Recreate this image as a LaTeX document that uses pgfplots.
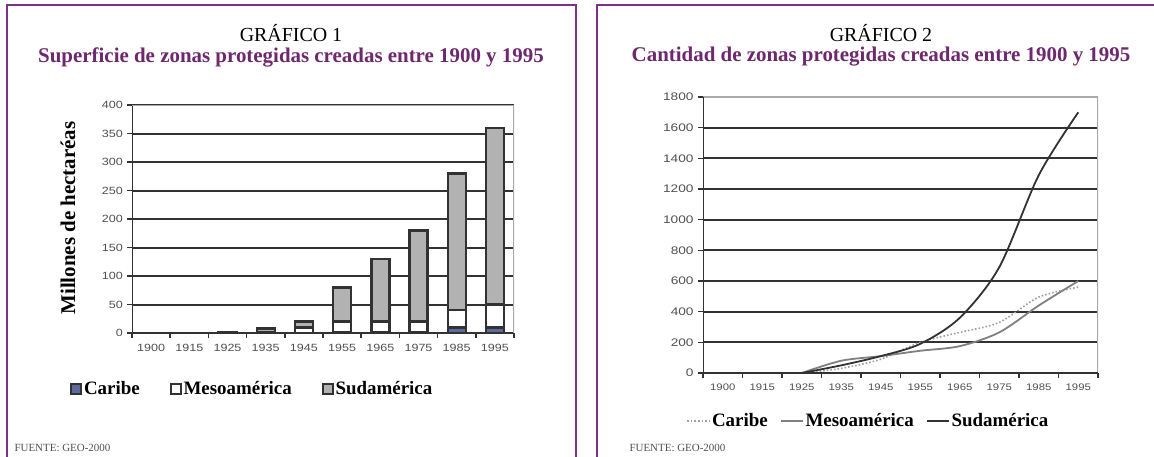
\documentclass[border=0pt]{standalone}
\usepackage{fontspec}
\setmainfont{Liberation Serif}
\newfontfamily\sansf{Liberation Sans}
\usepackage{pgfplots}
\pgfplotsset{compat=1.18}
\definecolor{ttl}{RGB}{110,40,110}
\definecolor{brd}{RGB}{125,50,135}
\definecolor{grd}{RGB}{50,50,50}
\definecolor{frm}{RGB}{170,170,170}
\definecolor{tlab}{RGB}{80,80,80}
\definecolor{sud}{RGB}{178,178,178}
\definecolor{car}{RGB}{95,105,160}
\begin{document}
\begin{tikzpicture}
\clip (0,0) rectangle (1154bp,457bp);
\fill[white] (0,0) rectangle (1154bp,457bp);
% panel borders
\draw[brd, line width=2.2bp] (7bp,-10bp) -- (7bp,452bp) -- (576bp,452bp) -- (576bp,-10bp);
\draw[brd, line width=2.2bp] (597bp,-10bp) -- (597bp,452bp) -- (1170bp,452bp);
% titles
\node[font=\fontsize{20}{24}\selectfont] at (291bp,424bp) {GRÁFICO 1};
\node[font=\bfseries\fontsize{21}{25}\selectfont, text=ttl] at (291bp,400bp) {Superficie de zonas protegidas creadas entre 1900 y 1995};
\node[font=\fontsize{20}{24}\selectfont] at (881bp,424bp) {GRÁFICO 2};
\node[font=\bfseries\fontsize{21}{25}\selectfont, text=ttl] at (881bp,400bp) {Cantidad de zonas protegidas creadas entre 1900 y 1995};
\node[font=\fontsize{11}{13}\selectfont, text=tlab, anchor=west] at (11bp,9bp) {FUENTE: GEO-2000};
\node[font=\fontsize{11}{13}\selectfont, text=tlab, anchor=west] at (626bp,9bp) {FUENTE: GEO-2000};
\node[rotate=90, font=\bfseries\fontsize{21}{25}\selectfont] at (68bp,239bp) {Millones de hectaréas};

% ---------- Chart 1 ----------
\begin{axis}[
  at={(132bp,124bp)}, anchor=south west, scale only axis,
  width=382bp, height=228bp,
  ybar stacked, bar width=18bp,
  xmin=-0.5, xmax=9.5, ymin=0, ymax=400,
  xtick={0,...,9},
  xticklabels={1900,1915,1925,1935,1945,1955,1965,1975,1985,1995},
  minor xtick={-0.5,0.5,...,9.5},
  ytick={0,50,...,400},
  xtick pos=bottom, ytick pos=left,
  major x tick style={draw=none},
  tick align=outside,
  major tick length=5bp, minor tick length=5bp,
  tick style={color=grd, line width=1.5bp},
  ymajorgrids, grid style={line width=2bp, color=grd},
  axis line style={draw=none},
  tick label style={font=\sansf\fontsize{10.5}{12}\selectfont, text=tlab, xscale=1.2},
  /pgf/number format/assume math mode=true,
  xticklabel style={yshift=-3bp},
  legend style={at={(-0.17,-0.245)}, anchor=west, draw=none, fill=none,
    font=\bfseries\fontsize{19}{22}\selectfont, legend columns=-1,
    /tikz/every even column/.append style={column sep=28bp}},
  legend image code/.code={\draw[#1, line width=1.8bp] (0bp,-5bp) rectangle (10bp,5bp);},
]
\addplot[fill=car, draw=grd, line width=2.4bp] coordinates {(0,0) (1,0) (2,0) (3,0) (4,0) (5,1) (6,1) (7,1) (8,10) (9,10)};
\addlegendentry{Caribe}
\addplot[fill=white, draw=grd, line width=2.4bp] coordinates {(0,0) (1,0) (2,0.5) (3,2) (4,10) (5,19) (6,19) (7,19) (8,30) (9,40)};
\addlegendentry{Mesoamérica}
\addplot[fill=sud, draw=grd, line width=2.4bp] coordinates {(0,0) (1,0) (2,1) (3,6) (4,10) (5,60) (6,110) (7,160) (8,240) (9,310)};
\addlegendentry{Sudamérica}
\draw[frm, line width=2bp] (rel axis cs:0,1) -- (rel axis cs:1,1) -- (rel axis cs:1,0);
\draw[grd, line width=2bp] (rel axis cs:0,0) -- (rel axis cs:0,1);
\draw[grd, line width=2bp] (rel axis cs:0,0) -- (rel axis cs:1,0);
\end{axis}

% ---------- Chart 2 ----------
\begin{axis}[
  at={(703bp,84bp)}, anchor=south west, scale only axis,
  width=395bp, height=276bp,
  xmin=-0.5, xmax=9.5, ymin=0, ymax=1800,
  xtick={0,...,9},
  xticklabels={1900,1915,1925,1935,1945,1955,1965,1975,1985,1995},
  minor xtick={-0.5,0.5,...,9.5},
  ytick={0,200,...,1800},
  xtick pos=bottom, ytick pos=left,
  major x tick style={draw=none},
  tick align=outside,
  major tick length=5bp, minor tick length=5bp,
  tick style={color=grd, line width=1.5bp},
  ymajorgrids, grid style={line width=2bp, color=grd},
  axis line style={draw=none},
  yticklabel style={font=\sansf\fontsize{11}{13}\selectfont, text=tlab, xscale=1.25},
  xticklabel style={font=\sansf\fontsize{9.5}{11}\selectfont, text=tlab, xscale=1.2, yshift=-2bp},
  /pgf/number format/assume math mode=true,
  /pgf/number format/1000 sep={},
  legend style={at={(-0.05,-0.174)}, anchor=west, draw=none, fill=none,
    font=\bfseries\fontsize{19}{22}\selectfont, legend columns=-1,
    /tikz/every even column/.append style={column sep=10bp}},
  legend image code/.code={\draw[#1] (0bp,0bp) -- (22bp,0bp);},
]
\addplot[color=gray!75, line width=1.6bp, dotted, smooth] coordinates {(2,0) (3,30) (4,90) (5,200) (6,265) (7,330) (8,495) (9,560)};
\addlegendentry{Caribe}
\addplot[color=gray, line width=1.8bp, smooth] coordinates {(2,0) (3,80) (4,110) (5,145) (6,175) (7,265) (8,440) (9,600)};
\addlegendentry{Mesoamérica}
\addplot[color=grd, line width=1.8bp, smooth] coordinates {(2,0) (3,50) (4,110) (5,190) (6,360) (7,690) (8,1290) (9,1700)};
\addlegendentry{Sudamérica}
\draw[frm, line width=2bp] (rel axis cs:0,1) -- (rel axis cs:1,1) -- (rel axis cs:1,0);
\draw[grd, line width=2bp] (rel axis cs:0,0) -- (rel axis cs:0,1);
\draw[grd, line width=2bp] (rel axis cs:0,0) -- (rel axis cs:1,0);
\end{axis}
\end{tikzpicture}
\end{document}
